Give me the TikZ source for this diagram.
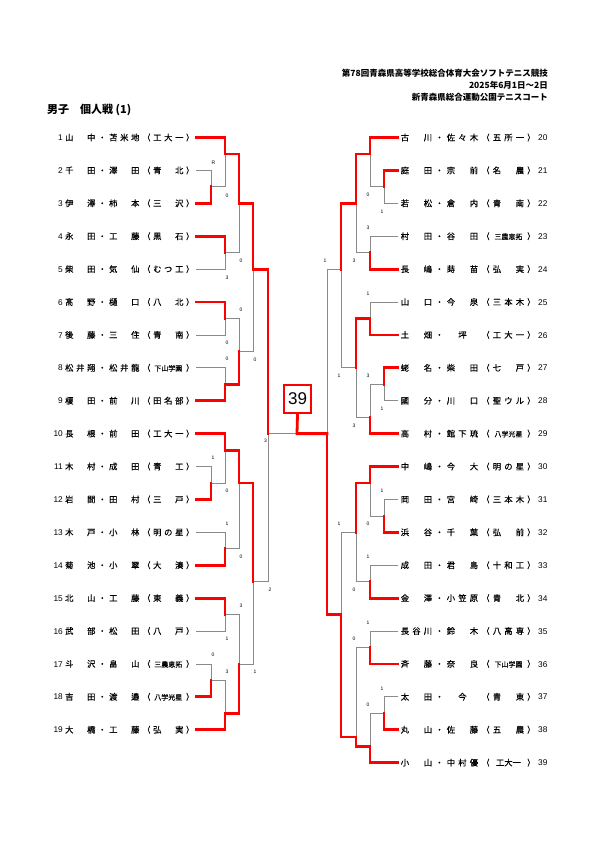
\documentclass[tikz,border=0pt]{standalone}
\usepackage{fontspec}
\setmainfont{Noto Sans CJK JP}
\newfontfamily\numfont{Liberation Sans}
\newfontfamily\namefont{Noto Sans CJK JP}[FakeBold=0.35]
\usepackage{xcolor}
\definecolor{WinRed}{HTML}{FF0000}
\definecolor{LoseGrey}{HTML}{8A8A8A}
\usepackage{tikz}
\usetikzlibrary{positioning}
% one name is set in equal cells, as on the sheet
\newlength\cw
\setlength\cw{11pt}
\newcommand\cell[1]{\makebox[\cw]{#1}}
\def\cells#1{\cellsi#1\relax}
\def\cellsi#1{\ifx\relax#1\else\cell{#1}\expandafter\cellsi\fi}
\newcommand\sch[1]{\makebox[3\cw]{\fontsize{7}{7}\selectfont #1}}
\newcommand\nmL[3]{\makebox[10pt][r]{\numfont #1}\hspace{1pt}\cells{#2（#3）}\hspace{3pt}}
\newcommand\nmLx[3]{\makebox[10pt][r]{\numfont #1}\hspace{1pt}\cells{#2（}#3\cell{）}\hspace{3pt}}
\newcommand\nmR[3]{\setlength\cw{11.5pt}\hspace{1pt}\cells{#2（#3）}\hspace{1pt}{\numfont #1}}
\newcommand\nmRx[3]{\setlength\cw{11.5pt}\hspace{1pt}\cells{#2（}#3\cell{）}\hspace{1pt}{\numfont #1}}

\begin{document}
\begin{tikzpicture}[x=1pt,y=-1pt,
  won/.style={line width=2.8pt,WinRed,line cap=rect},
  lost/.style={line width=0.8pt,LoseGrey},
  nameL/.style={anchor=east,inner sep=0pt,font=\namefont\fontsize{8.3}{8.3}\selectfont},
  nameR/.style={anchor=west,inner sep=0pt,font=\namefont\fontsize{8.3}{8.3}\selectfont},
  scoreL/.style={anchor=west,inner sep=0pt,font=\numfont\fontsize{5}{5}\selectfont},
  scoreR/.style={anchor=east,inner sep=0pt,font=\numfont\fontsize{5}{5}\selectfont},
  head/.style={anchor=east,inner sep=0pt,font=\fontsize{8.5}{9}\selectfont\bfseries}
]
  \path[use as bounding box] (0,0) rectangle (595,842);

  % heading
  \node[head] (meet) at (548,73) {第78回青森県高等学校総合体育大会ソフトテニス競技};
  \node[head] (date) at (548,85.5) {2025年6月1日～2日};
  \node[head] (site) at (548,97.5) {新青森県総合運動公園テニスコート};
  \node[anchor=west,inner sep=0pt,font=\fontsize{11}{11}\selectfont\bfseries] (title) at (47,110) {男子　個人戦 (1)};

  % left half
  \node[nameL] (p1) at (196,137.5) {\nmL{1}{山　中・苫米地}{工大一}};
  \node[nameL] (p2) at (196,170.4) {\nmL{2}{千　田・澤　田}{青　北}};
  \node[nameL] (p3) at (196,203.3) {\nmL{3}{伊　澤・柿　本}{三　沢}};
  \node[nameL] (p4) at (196,236.2) {\nmL{4}{永　田・工　藤}{黒　石}};
  \node[nameL] (p5) at (196,269.1) {\nmL{5}{柴　田・気　仙}{むつ工}};
  \node[nameL] (p6) at (196,302.0) {\nmL{6}{髙　野・樋　口}{八　北}};
  \node[nameL] (p7) at (196,334.9) {\nmL{7}{後　藤・三　住}{青　南}};
  \node[nameL] (p8) at (196,367.8) {\nmLx{8}{松井翔・松井龍}{\sch{下山学園}}};
  \node[nameL] (p9) at (196,400.7) {\nmL{9}{榎　田・前　川}{田名部}};
  \node[nameL] (p10) at (196,433.6) {\nmL{10}{長　根・前　田}{工大一}};
  \node[nameL] (p11) at (196,466.5) {\nmL{11}{木　村・成　田}{青　工}};
  \node[nameL] (p12) at (196,499.4) {\nmL{12}{岩　間・田　村}{三　戸}};
  \node[nameL] (p13) at (196,532.3) {\nmL{13}{木　戸・小　林}{明の星}};
  \node[nameL] (p14) at (196,565.2) {\nmL{14}{菊　池・小　翠}{大　湊}};
  \node[nameL] (p15) at (196,598.1) {\nmL{15}{北　山・工　藤}{東　義}};
  \node[nameL] (p16) at (196,631.0) {\nmL{16}{武　部・松　田}{八　戸}};
  \node[nameL] (p17) at (196,663.9) {\nmLx{17}{斗　沢・畠　山}{\sch{三農恵拓}}};
  \node[nameL] (p18) at (196,696.8) {\nmLx{18}{吉　田・渡　邉}{\sch{八学光星}}};
  \node[nameL] (p19) at (196,729.7) {\nmL{19}{大　橋・工　藤}{弘　実}};

  % right half
  \node[nameR] (p20) at (398,137.5) {\nmR{20}{古　川・佐々木}{五所一}};
  \node[nameR] (p21) at (398,170.4) {\nmR{21}{庭　田・宗　前}{名　農}};
  \node[nameR] (p22) at (398,203.3) {\nmR{22}{若　松・倉　内}{青　南}};
  \node[nameR] (p23) at (398,236.2) {\nmRx{23}{村　田・谷　田}{\sch{三農恵拓}}};
  \node[nameR] (p24) at (398,269.1) {\nmR{24}{長　嶋・蒔　苗}{弘　実}};
  \node[nameR] (p25) at (398,302.0) {\nmR{25}{山　口・今　泉}{三本木}};
  \node[nameR] (p26) at (398,334.9) {\nmR{26}{土　畑・　坪　}{工大一}};
  \node[nameR] (p27) at (398,367.8) {\nmR{27}{蛯　名・柴　田}{七　戸}};
  \node[nameR] (p28) at (398,400.7) {\nmR{28}{國　分・川　口}{聖ウル}};
  \node[nameR] (p29) at (398,433.6) {\nmRx{29}{高　村・館下琉}{\sch{八学光星}}};
  \node[nameR] (p30) at (398,466.5) {\nmR{30}{中　嶋・今　大}{明の星}};
  \node[nameR] (p31) at (398,499.4) {\nmR{31}{岡　田・宮　崎}{三本木}};
  \node[nameR] (p32) at (398,532.3) {\nmR{32}{浜　谷・千　葉}{弘　前}};
  \node[nameR] (p33) at (398,565.2) {\nmR{33}{成　田・君　島}{十和工}};
  \node[nameR] (p34) at (398,598.1) {\nmR{34}{金　澤・小笠原}{青　北}};
  \node[nameR] (p35) at (398,631.0) {\nmR{35}{長谷川・鈴　木}{八高専}};
  \node[nameR] (p36) at (398,663.9) {\nmRx{36}{斉　藤・奈　良}{\sch{下山学園}}};
  \node[nameR] (p37) at (398,696.8) {\nmR{37}{太　田・　今　}{青　東}};
  \node[nameR] (p38) at (398,729.7) {\nmR{38}{丸　山・佐　藤}{五　農}};
  \node[nameR] (p39) at (398,762.6) {\nmRx{39}{小　山・中村優}{\makebox[3\cw]{工大一}}};

  % match points, left
  \coordinate (a1) at (211,186.9);
  \coordinate (a2) at (225,154.0);
  \coordinate (a3) at (225,252.7);
  \coordinate (a4) at (239,203.3);
  \coordinate (a5) at (225,318.5);
  \coordinate (a6) at (225,384.3);
  \coordinate (a7) at (239,351.4);
  \coordinate (a8) at (253,269.1);
  \coordinate (b1) at (211,483.0);
  \coordinate (b2) at (225,450.1);
  \coordinate (b3) at (225,548.8);
  \coordinate (b4) at (239,483.0);
  \coordinate (b5) at (225,614.6);
  \coordinate (b6) at (211,680.4);
  \coordinate (b7) at (225,713.3);
  \coordinate (b8) at (239,663.9);
  \coordinate (b9) at (253,581.7);
  \coordinate (sl) at (268,433.6);
  % match points, right
  \coordinate (c1) at (384,186.9);
  \coordinate (c2) at (370,154.0);
  \coordinate (c3) at (370,252.7);
  \coordinate (c4) at (356,203.3);
  \coordinate (c5) at (370,318.5);
  \coordinate (c6) at (384,384.3);
  \coordinate (c7) at (370,417.2);
  \coordinate (c8) at (356,367.8);
  \coordinate (c9) at (341,269.1);
  \coordinate (d1) at (384,515.9);
  \coordinate (d2) at (370,483.0);
  \coordinate (d3) at (370,581.7);
  \coordinate (d4) at (356,532.3);
  \coordinate (d5) at (370,647.5);
  \coordinate (d6) at (384,713.3);
  \coordinate (d7) at (370,746.2);
  \coordinate (d8) at (356,737.0);
  \coordinate (d9) at (341,614.6);
  \coordinate (sr) at (327,433.6);
  \coordinate (fin) at (297,433.6);
  \node[draw=WinRed,line width=2.4pt,minimum width=27pt,minimum height=28pt,inner sep=0pt,font=\numfont\fontsize{17}{17}\selectfont] (champ) at (297.5,399) {39};

  % losing lines
  \draw[lost] (p2.east) -| (a1);
  \draw[lost] (a1) -| (a2);
  \draw[lost] (p5.east) -| (a3);
  \draw[lost] (a3) -| (a4);
  \draw[lost] (p7.east) -| (a5);
  \draw[lost] (p8.east) -| (a6);
  \draw[lost] (a5) -| (a7);
  \draw[lost] (a7) -| (a8);
  \draw[lost] (p11.east) -| (b1);
  \draw[lost] (b1) -| (b2);
  \draw[lost] (p13.east) -| (b3);
  \draw[lost] (b3) -| (b4);
  \draw[lost] (p16.east) -| (b5);
  \draw[lost] (p17.east) -| (b6);
  \draw[lost] (b6) -| (b7);
  \draw[lost] (b5) -| (b8);
  \draw[lost] (b8) -| (b9);
  \draw[lost] (b9) -| (sl);
  \draw[lost] (sl) -- (fin);
  \draw[lost] (p22.west) -| (c1);
  \draw[lost] (c1) -| (c2);
  \draw[lost] (p23.west) -| (c3);
  \draw[lost] (c3) -| (c4);
  \draw[lost] (p25.west) -| (c5);
  \draw[lost] (p28.west) -| (c6);
  \draw[lost] (c6) -| (c7);
  \draw[lost] (c7) -| (c8);
  \draw[lost] (c8) -| (c9);
  \draw[lost] (c9) -| (sr);
  \draw[lost] (p31.west) -| (d1);
  \draw[lost] (d1) -| (d2);
  \draw[lost] (p33.west) -| (d3);
  \draw[lost] (d3) -| (d4);
  \draw[lost] (p35.west) -| (d5);
  \draw[lost] (p37.west) -| (d6);
  \draw[lost] (d6) -| (d7);
  \draw[lost] (d5) -| (d8);
  \draw[lost] (d4) -| (d9);

  % winning lines
  \draw[won] (p3.east) -| (a1);
  \draw[won] (p1.east) -| (a2);
  \draw[won] (p4.east) -| (a3);
  \draw[won] (a2) -| (a4);
  \draw[won] (p6.east) -| (a5);
  \draw[won] (p9.east) -| (a6);
  \draw[won] (a6) -| (a7);
  \draw[won] (a4) -| (a8);
  \draw[won] (p12.east) -| (b1);
  \draw[won] (p10.east) -| (b2);
  \draw[won] (p14.east) -| (b3);
  \draw[won] (b2) -| (b4);
  \draw[won] (p15.east) -| (b5);
  \draw[won] (p18.east) -| (b6);
  \draw[won] (p19.east) -| (b7);
  \draw[won] (b7) -| (b8);
  \draw[won] (b4) -| (b9);
  \draw[won] (a8) -| (sl);
  \draw[won] (p21.west) -| (c1);
  \draw[won] (p20.west) -| (c2);
  \draw[won] (p24.west) -| (c3);
  \draw[won] (c2) -| (c4);
  \draw[won] (p26.west) -| (c5);
  \draw[won] (p27.west) -| (c6);
  \draw[won] (p29.west) -| (c7);
  \draw[won] (c5) -| (c8);
  \draw[won] (c4) -| (c9);
  \draw[won] (p32.west) -| (d1);
  \draw[won] (p30.west) -| (d2);
  \draw[won] (p34.west) -| (d3);
  \draw[won] (d2) -| (d4);
  \draw[won] (p36.west) -| (d5);
  \draw[won] (p38.west) -| (d6);
  \draw[won] (p39.west) -| (d7);
  \draw[won] (d7) -| (d8);
  \draw[won] (d8) -| (d9);
  \draw[won] (d9) -| (sr);
  \draw[won] (sr) -- (fin) -- (champ.south);

  % scores of the losers
  \node[scoreL] (sa1) at (211.5,162.5) {R};
  \node[scoreL] (sa2) at (225.5,195.5) {0};
  \node[scoreL] (sa3) at (225.5,277.5) {3};
  \node[scoreL] (sa4) at (239.5,261) {0};
  \node[scoreL] (sa5) at (225.5,343) {0};
  \node[scoreL] (sa6) at (225.5,359) {0};
  \node[scoreL] (sa7) at (239.5,310) {0};
  \node[scoreL] (sa8) at (253.5,359.5) {0};
  \node[scoreL] (sb1) at (211.5,458) {1};
  \node[scoreL] (sb2) at (225.5,491) {0};
  \node[scoreL] (sb3) at (225.5,524) {1};
  \node[scoreL] (sb4) at (239.5,557) {0};
  \node[scoreL] (sb5) at (225.5,639) {1};
  \node[scoreL] (sb6) at (211.5,655) {0};
  \node[scoreL] (sb7) at (225.5,672) {3};
  \node[scoreL] (sb8) at (239.5,606) {3};
  \node[scoreL] (sb9) at (253.5,672) {1};
  \node[scoreL] (ssl) at (268.5,590) {2};
  \node[scoreR] (sfin) at (267,441) {3};
  \node[scoreR] (sc1) at (383.5,211.5) {1};
  \node[scoreR] (sc2) at (369.5,195) {0};
  \node[scoreR] (sc3) at (369.5,228) {3};
  \node[scoreR] (sc4) at (355.5,261) {3};
  \node[scoreR] (sc5) at (369.5,294) {1};
  \node[scoreR] (sc6) at (383.5,409) {1};
  \node[scoreR] (sc7) at (369.5,376) {3};
  \node[scoreR] (sc8) at (355.5,425.5) {3};
  \node[scoreR] (sc9) at (340.5,376) {1};
  \node[scoreR] (sd1) at (383.5,491) {1};
  \node[scoreR] (sd2) at (369.5,524) {0};
  \node[scoreR] (sd3) at (369.5,557) {1};
  \node[scoreR] (sd4) at (355.5,590) {0};
  \node[scoreR] (sd5) at (369.5,623) {1};
  \node[scoreR] (sd6) at (383.5,688.5) {1};
  \node[scoreR] (sd7) at (369.5,705) {0};
  \node[scoreR] (sd8) at (355.5,639) {0};
  \node[scoreR] (sd9) at (340.5,524) {1};
  \node[scoreR] (ssr) at (326.5,261) {1};
\end{tikzpicture}
\end{document}
